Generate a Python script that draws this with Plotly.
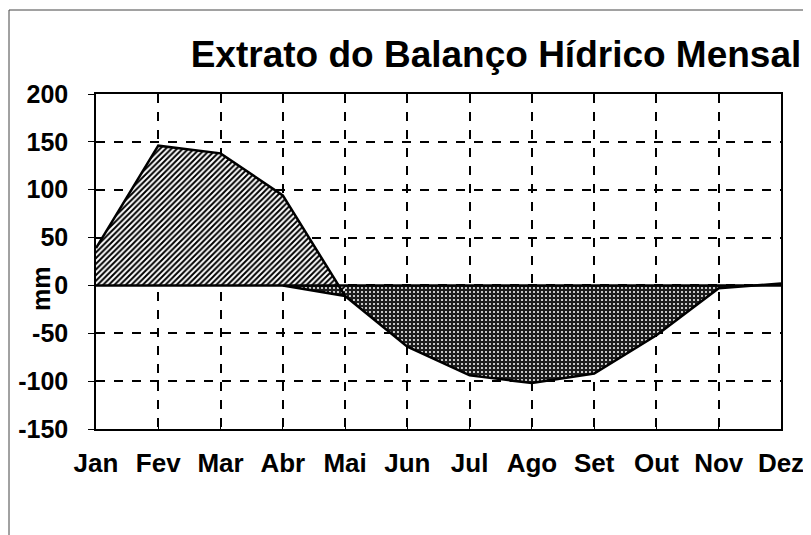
import plotly.graph_objects as go

months = ["Jan", "Fev", "Mar", "Abr", "Mai", "Jun", "Jul", "Ago", "Set", "Out", "Nov", "Dez"]
# Excedente hídrico (Jan..Mai)
excess_months = months[0:5]
excess_vals = [39, 146, 138, 94, -11]
# Deficiência hídrica (Abr..Dez)
deficit_months = months[3:12]
deficit_vals = [0, -11, -64, -94, -102, -92, -52, -3, 2]
y_ticks = [-150, -100, -50, 0, 50, 100, 150, 200]

FONT = "Liberation Sans, Arial, sans-serif"
idx = {m: i for i, m in enumerate(months)}

W, H = 803, 527          # page body has an 8px margin
L, R, T, B = 88, 30, 86, 106
PW, PH = W - L - R, H - T - B
def px(x):  # figure px -> paper x
    return (x - L) / PW
def py(y):  # figure px -> paper y
    return (T + PH - y) / PH

fig = go.Figure()
fig.add_trace(go.Scatter(
    x=[idx[m] for m in deficit_months], y=deficit_vals,
    mode="lines", fill="tozeroy",
    line=dict(color="black", width=2.5),
    fillpattern=dict(shape=".", bgcolor="#1c1c1c", fgcolor="white", size=4, solidity=0.2, fillmode="replace"),
    showlegend=False, hoverinfo="skip",
))
fig.add_trace(go.Scatter(
    x=[idx[m] for m in excess_months], y=excess_vals,
    mode="lines", fill="tozeroy",
    line=dict(color="black", width=2.5),
    fillpattern=dict(shape="/", bgcolor="white", fgcolor="black", size=4, solidity=0.5, fillmode="replace"),
    showlegend=False, hoverinfo="skip",
))
# zero baseline
fig.add_trace(go.Scatter(
    x=[0, 11], y=[0, 0], mode="lines",
    line=dict(color="black", width=2.5),
    showlegend=False, hoverinfo="skip",
))

fig.update_layout(
    width=W, height=H,
    margin=dict(l=L, r=R, t=T, b=B, autoexpand=False),
    paper_bgcolor="white", plot_bgcolor="white",
    font=dict(family=FONT, color="black"),
    title=dict(
        text="<b>Extrato do Balanço Hídrico Mensal</b>",
        font=dict(family=FONT, size=37, color="black"),
        x=488 / W, xref="container", xanchor="center",
        y=1 - 46 / H, yref="container", yanchor="middle",
    ),
    xaxis=dict(
        range=[0, 11], automargin=False,
        tickmode="array", tickvals=list(range(12)),
        ticktext=["<b>%s</b>" % m for m in months],
        tickfont=dict(family=FONT, size=26, color="black"),
        showgrid=True, gridcolor="black", gridwidth=1.5, griddash="dash",
        showline=True, linecolor="black", linewidth=1.5, mirror=True,
        ticks="inside", ticklen=5, tickcolor="black",
        ticklabelstandoff=10,
        zeroline=False, fixedrange=True,
    ),
    yaxis=dict(
        range=[-150, 200], automargin=False,
        tickmode="array", tickvals=y_ticks,
        ticktext=["<b>%d</b>" % v for v in y_ticks],
        tickfont=dict(family=FONT, size=25, color="black"),
        showgrid=True, gridcolor="black", gridwidth=1.5, griddash="dash",
        showline=True, linecolor="black", linewidth=1.5, mirror=True,
        ticks="outside", ticklen=6, tickcolor="black",
        ticklabelstandoff=15,
        zeroline=False, fixedrange=True,
    ),
    annotations=[dict(
        text="<b>mm</b>", xref="paper", yref="paper",
        x=px(33), y=py(281), xanchor="center", yanchor="middle",
        showarrow=False, textangle=-90,
        font=dict(family=FONT, size=25, color="black"),
    )],
    shapes=[dict(
        type="rect", xref="paper", yref="paper",
        x0=px(1), x1=1.2,
        y0=-0.6, y1=py(2),
        line=dict(color="#444", width=1), layer="below",
    )],
)

fig.write_html("out.html")
